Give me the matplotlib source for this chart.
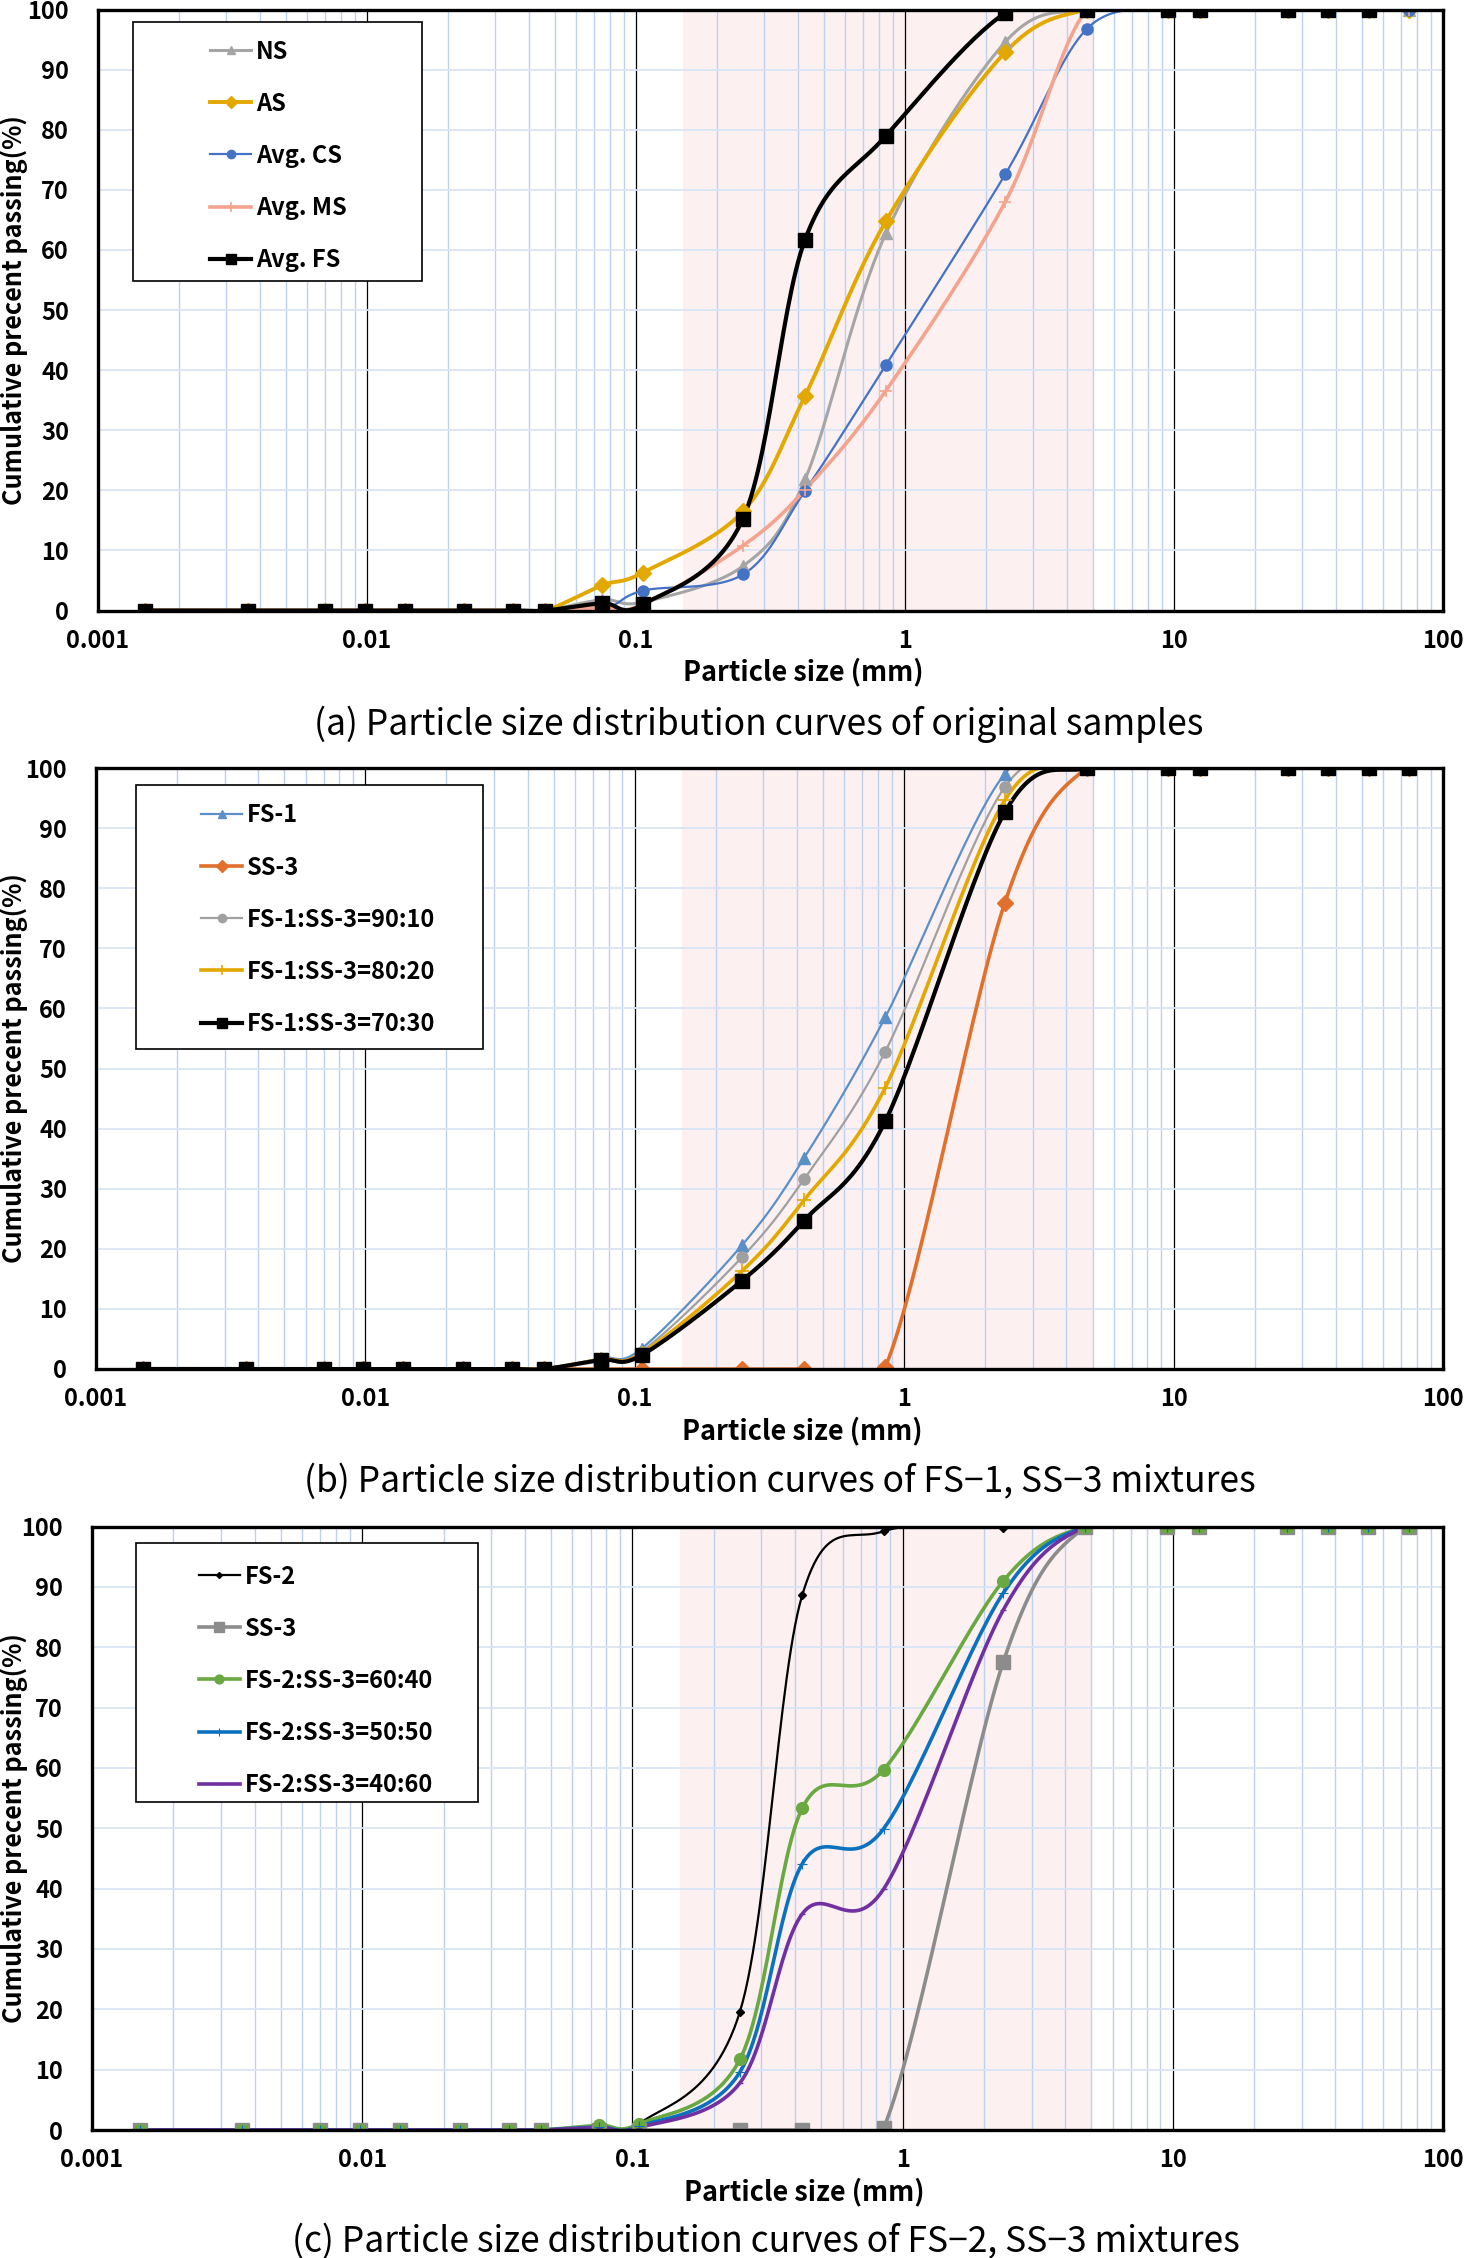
import numpy as np
import matplotlib
matplotlib.use('Agg')
import matplotlib.pyplot as plt
from matplotlib.lines import Line2D
from matplotlib.patches import Rectangle
from matplotlib.ticker import FixedLocator, LogLocator, NullFormatter

plt.rcParams['font.family'] = ['Noto Sans CJK KR', 'DejaVu Sans']

# sieve / hydrometer sizes (mm)
sizes = [0.0015, 0.0036, 0.007, 0.0098, 0.0138, 0.023, 0.035, 0.046, 0.075, 0.106,
         0.25, 0.425, 0.85, 2.36, 4.75, 9.5, 12.5, 26.5, 37.5, 53, 75]
z8 = [0] * 8
full = [100] * 6

# (a) original samples
ns = z8 + [1.8, 1.4, 7.4, 21.8, 62.8, 94.6, 100] + full
as_ = z8 + [4.2, 6.3, 16.5, 35.7, 64.8, 92.9, 100] + full
avg_cs = z8 + [0.1, 3.3, 6.0, 19.9, 40.9, 72.6, 96.8] + full
avg_ms = z8 + [0.5, 1.0, 10.8, 20.1, 36.6, 68.0, 100] + full
avg_fs = z8 + [1.2, 1.0, 15.3, 61.7, 79.0, 99.4, 100] + [100] * 5   # no 75 mm point

# (b) FS-1 / SS-3 mixtures
fs1 = z8 + [1.8, 3.4, 20.6, 35.1, 58.5, 99.0, 100] + full
ss3_b = z8 + [0, 0, 0, 0, 0.3, 77.5, 100] + full
b_90_10 = z8 + [1.7, 2.9, 18.6, 31.6, 52.8, 96.8, 100] + full
b_80_20 = z8 + [1.6, 2.6, 16.3, 28.1, 46.8, 94.6, 100] + full
b_70_30 = z8 + [1.5, 2.3, 14.7, 24.7, 41.2, 92.6, 100] + full

# (c) FS-2 / SS-3 mixtures
fs2 = z8 + [0.4, 1.0, 19.6, 88.6, 99.2, 99.8, 100] + full
ss3_c = z8 + [0, 0, 0, 0, 0.3, 77.6, 100] + full
c_60_40 = z8 + [0.8, 1.0, 11.7, 53.3, 59.7, 91.0, 100] + full
c_50_50 = z8 + [0.5, 0.6, 9.6, 44.1, 49.9, 89.0, 100] + full
c_40_60 = z8 + [0.4, 0.4, 7.8, 35.8, 39.9, 86.2, 100] + full

xticks = [0.001, 0.01, 0.1, 1, 10, 100]
xticklabels = ['0.001', '0.01', '0.1', '1', '10', '100']


def smooth(x, y, n=30):
    # Excel-like smoothed line (Catmull-Rom bezier in screen-ish space)
    k = 44.8
    P = np.column_stack([np.log10(x) * k, np.asarray(y, float)])
    E = np.vstack([P[0], P, P[-1]])
    t = np.linspace(0, 1, n)[:, None]
    out = []
    for i in range(len(P) - 1):
        p0, p1, p2, p3 = E[i], E[i + 1], E[i + 2], E[i + 3]
        c1 = p1 + (p2 - p0) / 6
        c2 = p2 - (p3 - p1) / 6
        seg = (1 - t) ** 3 * p1 + 3 * (1 - t) ** 2 * t * c1 + 3 * (1 - t) * t ** 2 * c2 + t ** 3 * p2
        out.append(seg if i == 0 else seg[1:])
    out = np.vstack(out)
    return 10 ** (out[:, 0] / k), out[:, 1]


W, H = 1466, 2258
fig = plt.figure(figsize=(W / 100, H / 100), dpi=100)


def make_axes(left, right, top, bottom):
    return fig.add_axes([left / W, 1 - bottom / H, (right - left) / W, (bottom - top) / H])


def style(ax, xlabel_x):
    ax.set_xscale('log')
    ax.set_xlim(0.001, 100)
    ax.set_ylim(0, 100)
    ax.axvspan(0.15, 5, color='#fdf0f1', zorder=0.1, lw=0)
    ax.xaxis.set_major_locator(FixedLocator(xticks))
    ax.set_xticklabels(xticklabels)
    ax.xaxis.set_minor_locator(LogLocator(base=10, subs=np.arange(2, 10)))
    ax.xaxis.set_minor_formatter(NullFormatter())
    ax.set_yticks(np.arange(0, 101, 10))
    ax.set_axisbelow(True)
    ax.grid(which='minor', axis='x', color='#bdd0ec', lw=1.0)
    ax.grid(which='major', axis='x', color='black', lw=0.9)
    ax.grid(which='major', axis='y', color='#d9e4f4', lw=1.3)
    ax.tick_params(which='both', length=0)
    ax.tick_params(axis='y', pad=21, labelsize=17)
    ax.tick_params(axis='x', pad=13, labelsize=17)
    for lab in ax.get_xticklabels() + ax.get_yticklabels():
        lab.set_fontweight('bold')
    for s in ax.spines.values():
        s.set_linewidth(2.4)
        s.set_color('black')
        s.set_zorder(10)
    ax.set_xlabel('Particle size (mm)', fontsize=19.5, fontweight='bold', va='center')
    ax.xaxis.set_label_coords(xlabel_x, -0.103)
    ax.set_ylabel('Cumulative precent passing(%)', fontsize=18.2, fontweight='bold', va='center')


def draw(ax, series, box, anchor):
    handles = []
    for x, y, label, color, lw, mk, ms, mew in series:
        sx, sy = smooth(x, y)
        ax.plot(sx, sy, color=color, lw=lw, zorder=2, solid_capstyle='round')
        ax.plot(x, y, linestyle='none', marker=mk, ms=ms, color=color, mew=mew, zorder=3)
        handles.append(Line2D([], [], color=color, lw=lw, marker=mk, ms=ms * 0.75, mew=mew))
    ax.add_patch(Rectangle(box[:2], box[2], box[3], transform=ax.transAxes,
                           facecolor='white', edgecolor='black', lw=1.2, zorder=5))
    leg = ax.legend(handles, [s[2] for s in series], loc='upper left', bbox_to_anchor=anchor,
                    frameon=False, borderpad=0, borderaxespad=0, handlelength=1.75,
                    handletextpad=0.2, labelspacing=1.19,
                    prop={'size': 17, 'weight': 'bold'})
    leg.set_zorder(6)


# (a)
ax1 = make_axes(98, 1443, 9.5, 610.5)
style(ax1, 0.524)
ax1.yaxis.set_label_coords((14 - 98) / 1345, 0.5)
draw(ax1, [
    (sizes, ns, 'NS', '#a5a5a5', 2.2, '^', 8, 1),
    (sizes, as_, 'AS', '#e3a800', 2.8, 'D', 8.5, 1),
    (sizes, avg_cs, 'Avg. CS', '#4472c4', 1.6, 'o', 8, 1),
    (sizes, avg_ms, 'Avg. MS', '#f4a48e', 2.6, '+', 9, 1.2),
    (sizes[:-1], avg_fs, 'Avg. FS', 'black', 3.0, 's', 10.5, 1),
], (0.026, 0.549, 0.215, 0.431), (0.0833, 0.950))

# (b)
ax2 = make_axes(96, 1443, 768, 1369)
style(ax2, 0.524)
ax2.yaxis.set_label_coords((14 - 96) / 1347, 0.5)
draw(ax2, [
    (sizes, fs1, 'FS-1', '#5b8fc7', 1.6, '^', 8.5, 1),
    (sizes, ss3_b, 'SS-3', '#e0702c', 2.6, 'D', 8, 1),
    (sizes, b_90_10, 'FS-1:SS-3=90:10', '#a0a0a0', 1.6, 'o', 8, 1),
    (sizes, b_80_20, 'FS-1:SS-3=80:20', '#e3a800', 2.6, '+', 9.5, 1.2),
    (sizes, b_70_30, 'FS-1:SS-3=70:30', 'black', 3.0, 's', 10.5, 1),
], (0.030, 0.532, 0.257, 0.439), (0.078, 0.941))

# (c)
ax3 = make_axes(92, 1443, 1526.5, 2130)
style(ax3, 0.527)
ax3.yaxis.set_label_coords((14 - 92) / 1351, 0.5)
draw(ax3, [
    (sizes, fs2, 'FS-2', 'black', 1.6, 'D', 4, 1),
    (sizes, ss3_c, 'SS-3', '#8c8c8c', 2.6, 's', 9.5, 1),
    (sizes, c_60_40, 'FS-2:SS-3=60:40', '#6aa842', 2.6, 'o', 8.5, 1),
    (sizes, c_50_50, 'FS-2:SS-3=50:50', '#0a70c0', 2.6, '+', 7, 0.8),
    (sizes, c_40_60, 'FS-2:SS-3=40:60', '#7030a0', 2.6, '_', 5, 1),
], (0.0325, 0.544, 0.253, 0.429), (0.079, 0.937))

cap = dict(ha='center', va='center', fontsize=25.5, fontweight='light')
fig.text(759 / W, 1 - 724 / H, '(a) Particle size distribution curves of original samples', **cap)
fig.text(780 / W, 1 - 1482 / H, '(b) Particle size distribution curves of FS\u22121, SS\u22123 mixtures', **cap)
fig.text(766 / W, 1 - 2242 / H, '(c) Particle size distribution curves of FS\u22122, SS\u22123 mixtures', **cap)

fig.savefig('out.png', dpi=100)
